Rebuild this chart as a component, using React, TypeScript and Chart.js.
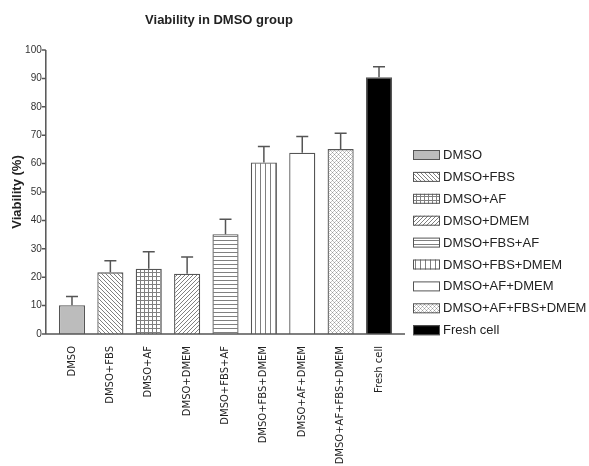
import React, { useEffect, useRef } from "react";
import { Chart, registerables } from "chart.js";

Chart.register(...registerables);

const categories = [
  "DMSO",
  "DMSO+FBS",
  "DMSO+AF",
  "DMSO+DMEM",
  "DMSO+FBS+AF",
  "DMSO+FBS+DMEM",
  "DMSO+AF+DMEM",
  "DMSO+AF+FBS+DMEM",
  "Fresh cell",
];
const viability = [10.1, 21.7, 23.0, 21.2, 35.1, 60.4, 63.8, 65.1, 90.4];
const sem = [3.1, 4.1, 6.0, 5.9, 5.3, 5.6, 5.7, 5.6, 3.7];
const patternKinds = ["solid", "back", "grid", "fwd", "horiz", "vert", "white", "cross", "black"];
const yTicks = [0, 10, 20, 30, 40, 50, 60, 70, 80, 90, 100];
const titleText = "Viability in DMSO group";
const yTitle = "Viability (%)";

function makePattern(kind: string): CanvasPattern | string {
  if (kind === "solid") return "#bcbcbc";
  if (kind === "white") return "#ffffff";
  if (kind === "black") return "#000000";
  const c = document.createElement("canvas");
  const s = kind === "cross" ? 4 : kind === "vert" ? 5 : 4;
  c.width = s;
  c.height = s;
  const g = c.getContext("2d")!;
  g.fillStyle = "#ffffff";
  g.fillRect(0, 0, s, s);
  g.strokeStyle = "#808080";
  g.lineWidth = 1;
  if (kind === "horiz") {
    g.beginPath(); g.moveTo(0, 0.5); g.lineTo(s, 0.5); g.stroke();
  } else if (kind === "vert") {
    g.beginPath(); g.moveTo(0.5, 0); g.lineTo(0.5, s); g.stroke();
  } else if (kind === "grid") {
    g.beginPath(); g.moveTo(0, 0.5); g.lineTo(s, 0.5); g.moveTo(0.5, 0); g.lineTo(0.5, s); g.stroke();
  } else if (kind === "back") {
    g.beginPath();
    g.moveTo(-1, -1); g.lineTo(s + 1, s + 1);
    g.moveTo(-1, s - 1); g.lineTo(1, s + 1);
    g.moveTo(s - 1, -1); g.lineTo(s + 1, 1);
    g.stroke();
  } else if (kind === "fwd") {
    g.beginPath();
    g.moveTo(-1, s + 1); g.lineTo(s + 1, -1);
    g.moveTo(-1, 1); g.lineTo(1, -1);
    g.moveTo(s - 1, s + 1); g.lineTo(s + 1, s - 1);
    g.stroke();
  } else if (kind === "cross") {
    g.fillStyle = "#9a9a9a";
    g.fillRect(0, 0, 1, 1);
    g.fillRect(2, 2, 1, 1);
    g.fillStyle = "#c8c8c8";
    g.fillRect(1, 1, 1, 1);
    g.fillRect(3, 3, 1, 1);
    g.fillRect(1, 3, 1, 1);
    g.fillRect(3, 1, 1, 1);
  }
  return g.createPattern(c, "repeat")!;
}

export default function App() {
  const ref = useRef<HTMLCanvasElement>(null);
  useEffect(() => {
    document.body.style.margin = "0";
    const fills = patternKinds.map(makePattern);
    const axisColor = "#555555";

    const extras = {
      id: "extras",
      afterDatasetsDraw(chart: any) {
        const ctx = chart.ctx as CanvasRenderingContext2D;
        const y = chart.scales.y;
        const area = chart.chartArea;
        const meta = chart.getDatasetMeta(0);
        ctx.save();
        // error bars
        ctx.strokeStyle = axisColor;
        ctx.lineWidth = 1.5;
        meta.data.forEach((bar: any, i: number) => {
          const top = y.getPixelForValue(viability[i]);
          const end = y.getPixelForValue(viability[i] + sem[i]);
          ctx.beginPath();
          ctx.moveTo(bar.x, top);
          ctx.lineTo(bar.x, end);
          ctx.moveTo(bar.x - 6, end);
          ctx.lineTo(bar.x + 6, end);
          ctx.stroke();
        });
        // axes
        const ax = area.left - 7;
        const y0 = y.getPixelForValue(0);
        ctx.beginPath();
        ctx.moveTo(ax, y.getPixelForValue(100));
        ctx.lineTo(ax, y0);
        ctx.lineTo(405, y0);
        yTicks.forEach((t) => {
          const py = y.getPixelForValue(t);
          ctx.moveTo(ax - 4, py);
          ctx.lineTo(ax, py);
        });
        ctx.stroke();
        // title
        ctx.fillStyle = "#222";
        ctx.font = "bold 13px 'Liberation Sans', Arial";
        ctx.textAlign = "center";
        ctx.textBaseline = "middle";
        ctx.fillText(titleText, 219, 20);
        // legend
        ctx.font = "13px 'Liberation Sans', Arial";
        ctx.textAlign = "left";
        categories.forEach((lab, i) => {
          const cy = 155 + i * 21.9;
          ctx.fillStyle = fills[i] as any;
          ctx.fillRect(413, cy - 5, 27, 10);
          ctx.strokeStyle = axisColor;
          ctx.lineWidth = 1;
          ctx.strokeRect(413.5, cy - 4.5, 26, 9);
          ctx.fillStyle = "#222";
          ctx.fillText(lab, 443, cy + 0.5);
        });
        ctx.restore();
      },
    };

    const chart = new Chart(ref.current!, {
      type: "bar",
      data: {
        labels: categories,
        datasets: [
          {
            data: viability,
            backgroundColor: fills as any,
            borderColor: axisColor,
            borderWidth: 1.3,
            barPercentage: 0.68,
            categoryPercentage: 1,
          },
        ],
      },
      options: {
        responsive: false,
        animation: false,
        layout: { padding: { top: 50, right: 190.8, left: 0, bottom: 0 } },
        plugins: { legend: { display: false }, title: { display: false }, tooltip: { enabled: false } },
        scales: {
          x: {
            grid: { display: false },
            border: { display: false },
            ticks: {
              font: { family: "'DejaVu Sans'", size: 10 },
              color: "#222",
              minRotation: 90,
              maxRotation: 90,
              autoSkip: false,
              padding: 4,
            },
            afterFit: (s: any) => {
              s.height = 132;
            },
          },
          y: {
            min: 0,
            max: 100,
            grid: { display: false, drawTicks: false },
            border: { display: false },
            ticks: {
              stepSize: 10,
              font: { family: "'Liberation Sans', Arial", size: 10 },
              color: "#333",
              padding: 11,
            },
            title: {
              display: true,
              text: yTitle,
              font: { family: "'Liberation Sans', Arial", size: 13, weight: "bold" },
              color: "#222",
              padding: { top: 10, bottom: 0 },
            },
            afterFit: (s: any) => {
              s.width = 52.8;
            },
          },
        },
      },
      plugins: [extras],
    });
    return () => chart.destroy();
  }, []);
  return <canvas ref={ref} width={589} height={466} style={{ display: "block" }} />;
}
